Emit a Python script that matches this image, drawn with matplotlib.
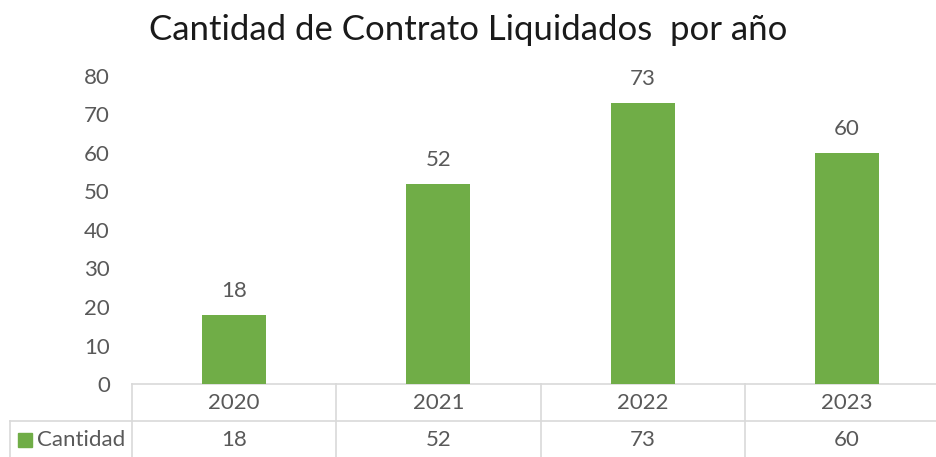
import matplotlib
matplotlib.use("Agg")
import matplotlib.pyplot as plt
from matplotlib.transforms import blended_transform_factory
from matplotlib.lines import Line2D
from matplotlib.patches import Rectangle

years = ["2020", "2021", "2022", "2023"]
cantidad = [18, 52, 73, 60]
series_name = "Cantidad"
title = "Cantidad de Contrato Liquidados  por año"
yticks = [0, 10, 20, 30, 40, 50, 60, 70, 80]

plt.rcParams['font.family'] = ['Lato', 'DejaVu Sans']
W, H = 936, 457
fig = plt.figure(figsize=(W / 100, H / 100), dpi=100)
fig.patch.set_facecolor("white")

def fx(px):
    return px / W

def fy(py):
    return 1 - py / H

left_px, right_px = 132, 949
top_px, bot_px = 76, 384
ax = fig.add_axes([fx(left_px), fy(bot_px), fx(right_px) - fx(left_px), fy(top_px) - fy(bot_px)])

green = "#70AD47"
txt = "#595959"
grid = "#D9D9D9"
fs = 16

x = list(range(len(years)))
ax.bar(x, cantidad, width=0.313, color=green, zorder=3)
ax.set_xlim(-0.5, len(years) - 0.5)
ax.set_ylim(0, 80)
ax.set_yticks(yticks)
ax.set_yticklabels([str(v) for v in yticks], fontsize=fs, color=txt)
ax.tick_params(axis='y', length=0, pad=16)
ax.set_xticks([])
for s in ["top", "right", "left"]:
    ax.spines[s].set_visible(False)
ax.spines["bottom"].set_color(grid)
ax.spines["bottom"].set_linewidth(1.2)

for xi, v in zip(x, cantidad):
    ax.annotate(str(v), (xi, v), xytext=(0, 17), textcoords="offset points",
                ha="center", va="center", fontsize=fs, color=txt)

fig.text(0.5, fy(30), title, ha="center", va="center", fontsize=25, color="#1a1a1a")

# data table
bt = blended_transform_factory(ax.transData, fig.transFigure)
row1_top, row2_top, row2_bot = 384, 421, 470
lw = 1.2
fig.add_artist(Line2D([fx(10), fx(right_px)], [fy(row2_top)] * 2, color=grid, lw=lw))
fig.add_artist(Line2D([fx(10), fx(10)], [fy(row2_top), fy(row2_bot)], color=grid, lw=lw))
for b in [i - 0.5 for i in range(len(years) + 1)]:
    fig.add_artist(Line2D([b, b], [fy(row1_top), fy(row2_bot)], color=grid, lw=lw,
                          transform=bt))
for xi, yr, v in zip(x, years, cantidad):
    fig.text(xi, fy(403), yr, transform=bt, ha="center", va="center", fontsize=fs, color=txt)
    fig.text(xi, fy(440), str(v), transform=bt, ha="center", va="center", fontsize=fs, color=txt)

# legend key
fig.add_artist(Rectangle((fx(18), fy(447)), fx(14), fy(433) - fy(447), color=green,
                         transform=fig.transFigure))
fig.text(fx(37), fy(440), series_name, ha="left", va="center", fontsize=fs, color=txt)

fig.savefig("out.png", dpi=100, facecolor="white")
